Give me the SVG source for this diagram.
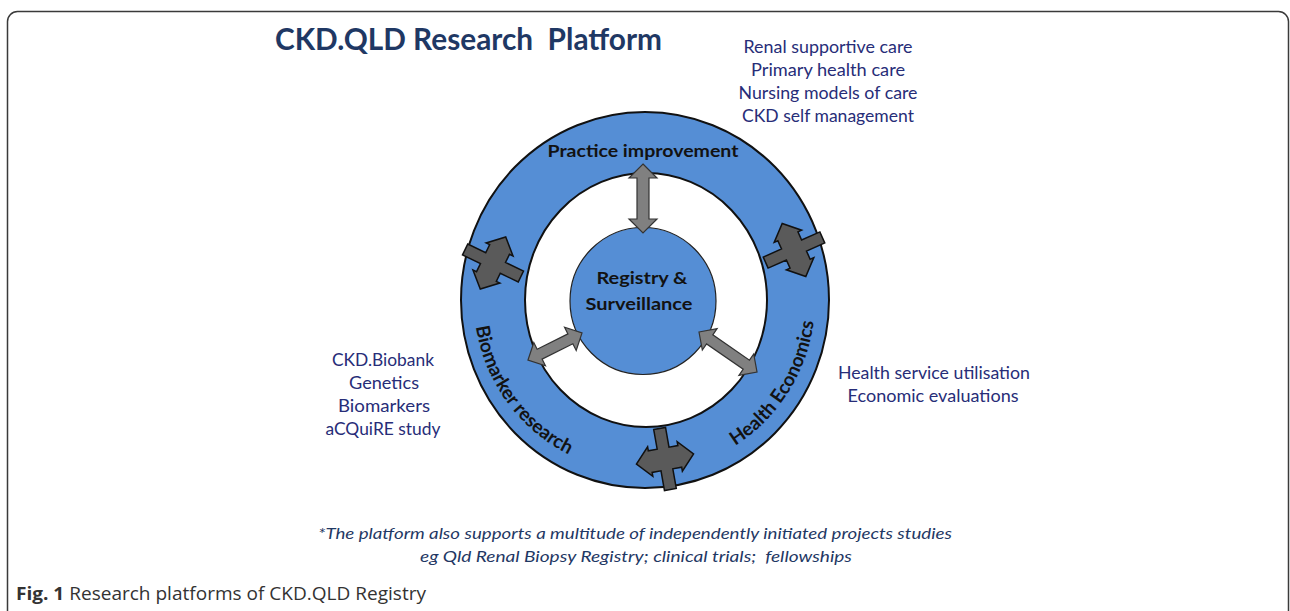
<svg xmlns="http://www.w3.org/2000/svg" width="1290" height="611" viewBox="0 0 1290 611">
<style>
.frame{fill:#fff;stroke:#3a3a3a;stroke-width:1.5}
.ring{fill:#558ed5;stroke:#111;stroke-width:2}
.hole{fill:#fff;stroke:#111;stroke-width:2}
.core{fill:#558ed5;stroke:#222;stroke-width:1.2}
.dark{fill:#5a5a5a;stroke:#111;stroke-width:1.5;stroke-linejoin:miter}
.grey{fill:#808080;stroke:#333;stroke-width:1.2}
.lbl{font-family:Lato,"Liberation Sans",sans-serif;font-weight:bold;fill:#121212;text-anchor:middle}
.list{font-family:Lato,"Liberation Sans",sans-serif;font-size:17.5px;fill:#272d78;text-anchor:middle}
.title{font-family:Lato,"Liberation Sans",sans-serif;font-weight:bold;font-size:30px;fill:#1f3864;white-space:pre}
.note{font-family:Lato,"Liberation Sans",sans-serif;font-style:italic;font-size:15px;fill:#1f3864;text-anchor:middle;white-space:pre}
.cap{font-family:"Open Sans","Liberation Sans",sans-serif;font-size:18px;fill:#333}
</style>
<defs>
<polygon id="cross" points="-6,-31 6,-31 6,-11 15,-11 15,-15 29,0 15,15 15,11 6,11 6,31 -6,31 -6,11 -15,11 -15,15 -29,0 -15,-15 -15,-11 -6,-11"/>
<path id="arcBio" d="M475.6,275 A169,172 0 0,0 618,470"/>
<path id="arcHealth" d="M680,468 A169,172 0 0,0 811,262"/>
</defs>
<rect class="frame" x="7.5" y="11.5" width="1281" height="640" rx="10"/>
<text class="title" x="275" y="50" textLength="387" lengthAdjust="spacingAndGlyphs">CKD.QLD Research  Platform</text>

<g id="ring-node">
<ellipse class="ring" cx="645" cy="300" rx="184" ry="188"/>
<ellipse class="hole" cx="646" cy="300" rx="121" ry="127"/>
</g>

<g id="connectors">
<use href="#cross" class="dark" transform="translate(493,263) rotate(-64)"/>
<use href="#cross" class="dark" transform="translate(794,250) rotate(-114)"/>
<use href="#cross" class="dark" transform="translate(665,459) rotate(-10)"/>
</g>

<g id="registry-node">
<ellipse class="core" cx="643" cy="301" rx="73" ry="73.5"/>
<text class="lbl" font-size="17" x="642" y="284" textLength="91" lengthAdjust="spacingAndGlyphs">Registry &amp;</text>
<text class="lbl" font-size="17" x="639" y="310" textLength="107" lengthAdjust="spacingAndGlyphs">Surveillance</text>
</g>

<g id="inner-connectors">
<polygon class="grey" transform="translate(643,164) rotate(90)" points="0,0 14,-14 14,-6 55,-6 55,-14 69,0 55,14 55,6 14,6 14,14"/>
<polygon class="grey" transform="translate(528,360) rotate(-26.6)" points="0,0 13,-13 13,-5.5 47.4,-5.5 47.4,-13 60.4,0 47.4,13 47.4,5.5 13,5.5 13,13"/>
<polygon class="grey" transform="translate(699,332) rotate(34.6)" points="0,0 13,-13 13,-5.5 57.5,-5.5 57.5,-13 70.5,0 57.5,13 57.5,5.5 13,5.5 13,13"/>
</g>

<g id="practice-node">
<text class="lbl" font-size="17" x="643" y="157" textLength="191" lengthAdjust="spacingAndGlyphs">Practice improvement</text>
<text class="list" x="828" y="53" textLength="169" lengthAdjust="spacingAndGlyphs">Renal supportive care</text>
<text class="list" x="828" y="76" textLength="154" lengthAdjust="spacingAndGlyphs">Primary health care</text>
<text class="list" x="828" y="99" textLength="179" lengthAdjust="spacingAndGlyphs">Nursing models of care</text>
<text class="list" x="828" y="122" textLength="172" lengthAdjust="spacingAndGlyphs">CKD self management</text>
</g>

<g id="biomarker-node">
<text class="lbl" font-size="19"><textPath href="#arcBio" startOffset="50%">Biomarker research</textPath></text>
<text class="list" x="383" y="366" textLength="102" lengthAdjust="spacingAndGlyphs">CKD.Biobank</text>
<text class="list" x="384" y="389" textLength="70" lengthAdjust="spacingAndGlyphs">Genetics</text>
<text class="list" x="384" y="412" textLength="92" lengthAdjust="spacingAndGlyphs">Biomarkers</text>
<text class="list" x="383" y="435" textLength="115" lengthAdjust="spacingAndGlyphs">aCQuiRE study</text>
</g>

<g id="health-node">
<text class="lbl" font-size="19"><textPath href="#arcHealth" startOffset="50%">Health Economics</textPath></text>
<text class="list" x="934" y="379" textLength="192" lengthAdjust="spacingAndGlyphs">Health service utilisation</text>
<text class="list" x="933" y="402" textLength="171" lengthAdjust="spacingAndGlyphs">Economic evaluations</text>
</g>

<text class="note" x="635" y="539" textLength="634" lengthAdjust="spacingAndGlyphs">*The platform also supports a multitude of independently initiated projects studies</text>
<text class="note" x="636" y="562" textLength="432" lengthAdjust="spacingAndGlyphs">eg Qld Renal Biopsy Registry; clinical trials;  fellowships</text>
<text class="cap" x="16" y="600" textLength="410" lengthAdjust="spacingAndGlyphs"><tspan font-weight="bold">Fig. 1</tspan> Research platforms of CKD.QLD Registry</text>
</svg>
